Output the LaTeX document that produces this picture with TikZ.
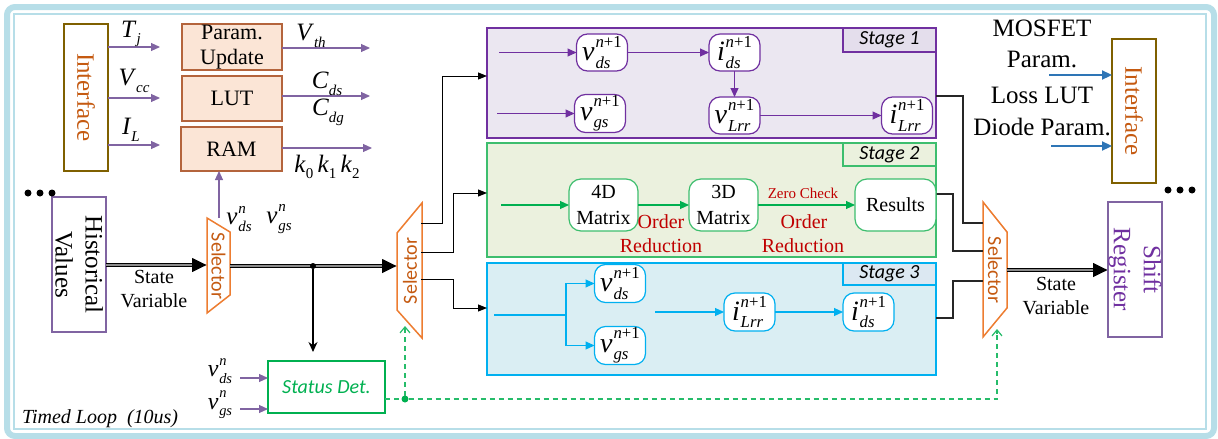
\documentclass[tikz,border=0pt]{standalone}
\usepackage{fontspec}
\setmainfont{Liberation Serif}
\newfontfamily\tms{Liberation Serif}
\newfontfamily\carl{Carlito}
\usetikzlibrary{arrows.meta,calc}
\definecolor{band}{HTML}{B7DEE8}
\definecolor{pur}{HTML}{7030A0}
\definecolor{pul}{HTML}{8064A2}
\definecolor{olv}{HTML}{7F6000}
\definecolor{brn}{HTML}{C55A11}
\definecolor{org}{HTML}{ED7D31}
\definecolor{peach}{HTML}{FBE5D6}
\definecolor{boxb}{HTML}{B4643C}
\definecolor{grn}{HTML}{00B050}
\definecolor{grl}{HTML}{3DBE6E}
\definecolor{cyn}{HTML}{00B0F0}
\definecolor{sonef}{HTML}{EBE7F1}
\definecolor{sonel}{HTML}{E4DEEC}
\definecolor{stwof}{HTML}{EBF1DE}
\definecolor{sthrf}{HTML}{DAEEF3}
\definecolor{sthrl}{HTML}{DCE8F2}
\definecolor{dred}{HTML}{C00000}
\definecolor{blu}{HTML}{2E75B6}
\newcommand\fsz[2]{\tms\fontsize{#1}{#2}\selectfont}
\newcommand\csz[2]{\carl\fontsize{#1}{#2}\selectfont}
\makeatletter
\newdimen\scrsz
\newdimen\scrw
\newcommand\scr[1]{\scrsz=0.6\dimexpr\f@size pt\relax\fontsize{\the\scrsz}{\the\scrsz}\selectfont #1}
\newcommand\supsub[2]{\setbox0=\hbox{\scr{#1}}\setbox2=\hbox{\scr{#2}}%
  \scrw=\wd0 \ifdim\wd2>\scrw \scrw=\wd2\fi
  \makebox[\scrw][l]{\rlap{\raisebox{0.47em}{\box0}}\raisebox{-0.27em}{\box2}}}
\makeatother
\newcommand\mvp[2]{\textit{#1}\kern0.03em\supsub{\textit{n}+1}{\textit{#2}}}
\newcommand\mvn[2]{\textit{#1}\kern0.03em\supsub{\textit{n}}{\textit{#2}}}
\newcommand\msb[2]{\textit{#1}\raisebox{-0.27em}{\hbox{\scr{\textit{#2}}}}}
\newcommand\msu[2]{\textit{#1}\raisebox{-0.27em}{\hbox{\scr{#2}}}}
\tikzset{
  every node/.style={inner sep=0pt, outer sep=0pt},
  parr/.style={draw=pul, line width=1.1pt, -{Triangle[length=9pt,width=8pt]}},
  blk/.style={draw=black, line width=1pt, -{Triangle[length=9pt,width=7pt]}},
  blkline/.style={draw=black!85, line width=1.1pt},
  ifbox/.style={draw=olv, line width=1.2pt, fill=white},
  pbox/.style={draw=boxb, line width=1.2pt, fill=peach, minimum width=100pt, font=\fsz{22}{25}, align=center},
  sel/.style={draw=org, line width=1.5pt, fill=white},
  seltxt/.style={text=brn, font=\csz{20}{22}},
  stlab/.style={font=\csz{20}{22}\itshape, minimum width=93pt, anchor=north east, line width=1.2pt},
  sonen/.style={draw=pur, fill=white, rounded corners=11pt, line width=1.2pt, minimum width=51pt, minimum height=37pt, font=\fsz{28}{28}},
  stwon/.style={draw=grl, fill=white, rounded corners=12pt, line width=1.2pt, minimum width=69pt, minimum height=52pt, font=\fsz{20}{26}, align=center},
  sthrn/.style={draw=cyn, fill=white, rounded corners=11pt, line width=1.2pt, minimum width=51pt, minimum height=38pt, font=\fsz{28}{28}},
  sonea/.style={draw=pur, line width=1.1pt, -{Triangle[length=9pt,width=8pt]}},
  stwoa/.style={draw=grn, line width=1.1pt, -{Triangle[length=9pt,width=8pt]}},
  sthra/.style={draw=cyn, line width=1.1pt, -{Triangle[length=9pt,width=8pt]}},
  rtxt/.style={text=dred, font=\fsz{20}{22}},
  mtxt/.style={font=\fsz{25}{26}},
  gdash/.style={draw=grn!85, line width=1.2pt, dash pattern=on 5pt off 4pt},
  dblk/.style={draw=black, line width=4pt, -{Triangle[length=15pt,width=13pt]}},
  dgry/.style={draw=black!45, line width=1.4pt},
  dotb/.style={fill=black, circle, minimum size=7pt}
}
\begin{document}
\begin{tikzpicture}[x=1pt,y=-1pt]
\useasboundingbox (0,0) rectangle (1218,439);
% frame
\draw[band, line width=6pt, rounded corners=8pt] (7,7) rectangle (1214,436);
\draw[band, line width=1.5pt] (14,14) rectangle (1206,429);

% ---- left interface
\node[ifbox, minimum width=44pt, minimum height=147pt] (ifl) at (86,97.5) {};
\node[rotate=-90, text=brn, font=\fsz{25}{28}] (iflt) at (ifl) {Interface};
\node[pbox, minimum height=46pt] (pu) at (232,47) {Param.\\Update};
\node[pbox, minimum height=45pt] (lut) at (232,98.5) {LUT};
\node[pbox, minimum height=44pt, minimum width=101pt] (ram) at (231.5,149) {RAM};
\draw[parr] (ifl.east |- 0,47) -- (160,47);
\draw[parr] (ifl.east |- 0,98) -- (160,98);
\draw[parr] (ifl.east |- 0,145) -- (160,145);
\node[mtxt] (tj) at (131,34) {\msb{T}{j}};
\node[mtxt] (vcc) at (134,81) {\msb{V}{cc}};
\node[mtxt] (il) at (131,130) {\msb{I}{L}};
\draw[parr] (pu.east |- 0,48) -- (370,48);
\draw[parr] (lut.east |- 0,96) -- (370,96);
\draw[parr] (ram.east |- 0,148) -- (372,148);
\node[mtxt] (vth) at (311,36) {\msb{V}{th}};
\node[mtxt] (cds) at (327,84) {\msb{C}{ds}};
\node[mtxt] (cdg) at (328,112) {\msb{C}{dg}};
\node[mtxt] (kk) at (327,167) {\msu{k}{0}\,\msu{k}{1}\,\msu{k}{2}};
\coordinate (ramin) at (219,218);
\draw[parr] (ramin) -- (ramin |- ram.south);
\node[mtxt] (vdsn) at (239,219) {\mvn{v}{ds}};
\node[mtxt] (vgsn) at (279,219) {\mvn{v}{gs}};

% ---- historical values
\node[draw=pul, line width=1.2pt, fill=white, minimum width=54pt, minimum height=135pt] (hv) at (79,264.5) {};
\node[rotate=-90, font=\fsz{25}{30}, align=center] (hvt) at (hv) {Historical\\Values};
\node[dotb] (d1) at (28,193) {};
\node[dotb] (d2) at (40,193) {};
\node[dotb] (d3) at (52,193) {};

% ---- selectors
\draw[sel] (207,218) -- (230,232) -- (230,295) -- (207,313) -- cycle;
\node[seltxt, rotate=-90] (sel1) at (218.5,266) {Selector};
\draw[sel] (397,233) -- (422,203) -- (422,338) -- (397,310) -- cycle;
\node[seltxt, rotate=90] (sel2) at (410,271) {Selector};
\draw[sel] (983,202) -- (1007,232) -- (1007,308) -- (983,337) -- cycle;
\node[seltxt, rotate=-90] (sel3) at (995,270) {Selector};

% state variable double arrows
\coordinate (hvo) at (hv.east |- 0,265);
\coordinate (s1i) at (207,265);
\draw[dblk] (hvo) -- (s1i);
\draw[dgry] (hvo) -- ($(s1i)+(-15,0)$);
\coordinate (s1o) at (230,266);
\coordinate (s2i) at (397,266);
\draw[dblk] (s1o) -- (s2i);
\draw[dgry] (s1o) -- ($(s2i)+(-15,0)$);
\coordinate (s3o) at (1007,270);
\coordinate (sri) at (1108,270);
\draw[dblk] (s3o) -- (sri);
\draw[dgry] (s3o) -- ($(sri)+(-15,0)$);
\node[font=\fsz{20}{24}, align=center] (sv1) at (154,289) {State\\Variable};
\node[font=\fsz{20}{24}, align=center] (sv2) at (1056,296) {State\\Variable};

% junction and status det
\node[fill=black, circle, minimum size=6pt] (jn) at (313,266) {};
\node[draw=grn, line width=1.2pt, minimum width=117pt, minimum height=52pt, text=grn, font=\csz{20}{22}\itshape] (sd) at (326.5,387) {Status Det.};
\draw[draw=black, line width=1.1pt, -{Stealth[length=10pt,width=9pt]}] (jn) -- (313,352);
\draw[parr] (240,378) -- (sd.west |- 0,378);
\draw[parr] (240,409) -- (sd.west |- 0,409);
\node[font=\fsz{24}{24}] (vdsn2) at (220,371) {\mvn{v}{ds}};
\node[font=\fsz{24}{24}] (vgsn2) at (220,405) {\mvn{v}{gs}};
\node[font=\fsz{20}{22}\itshape, anchor=base west] (tl) at (22,423) {Timed Loop\ \ (10us)};

% dashed green control
\node[fill=grn, circle, minimum size=7pt] (gd) at (405,399) {};
\draw[gdash] (sd.east |- 0,399) -- (gd) -- (997,399) -- (997,333);
\draw[gdash, -{Straight Barb[length=6pt,width=10pt]}] (gd) -- (405,326);
\draw[draw=grn!85, line width=1.2pt, -{Straight Barb[length=6pt,width=10pt]}] (997,334) -- (997,329);

% ---- stage boxes
\node[draw=pur, fill=sonef, line width=1.2pt, minimum width=449pt, minimum height=110pt] (st1) at (711.5,83) {};
\node[stlab, draw=pur, fill=sonel, minimum height=24pt] (st1l) at (st1.north east) {Stage 1};
\node[draw=grl, fill=stwof, line width=1.2pt, minimum width=449pt, minimum height=114pt] (st2) at (711.5,200) {};
\node[stlab, draw=grl, fill=stwof, minimum height=23pt] (st2l) at (st2.north east) {Stage 2};
\node[draw=cyn, fill=sthrf, line width=1.2pt, minimum width=449pt, minimum height=112pt] (st3) at (711.5,319) {};
\node[stlab, draw=cyn, fill=sthrl, minimum height=22pt] (st3l) at (st3.north east) {Stage 3};

% selector2 -> stages
\draw[blk] (421,223) -- (442,223) -- (442,76) -- (st1.west |- 0,76);
\draw[blk] (421,252) -- (453,252) -- (453,193) -- (st2.west |- 0,193);
\draw[blk] (421,279) -- (453,279) -- (453,308) -- (st3.west |- 0,308);

% stages -> selector3
\draw[blkline] (st1.east |- 0,96) -- (963,96) -- (963,223) -- (983,223);
\draw[blkline] (st2.east |- 0,194) -- (953,194) -- (953,251) -- (983,251);
\draw[blkline] (st3.east |- 0,318) -- (953,318) -- (953,281) -- (983,281);

% stage 1 content
\node[sonen] (a1) at (602,52.5) {\mvp{v}{ds}};
\node[sonen] (a2) at (734.5,52.5) {\mvp{i}{ds}};
\node[sonen, minimum height=38pt] (a3) at (600,113.5) {\mvp{v}{gs}};
\node[sonen] (a4) at (734.5,115.5) {\mvp{v}{Lrr}};
\node[sonen] (a5) at (907,115.5) {\mvp{i}{Lrr}};
\coordinate (a1in) at (499,52.5);
\coordinate (a3in) at (497,113.5);
\draw[sonea] (a1in) -- (a1);
\draw[sonea] (a1) -- (a2);
\draw[sonea] (a2) -- (a4);
\draw[sonea] (a3in) -- (a3);
\draw[sonea] (a4) -- (a5);

% stage 2 content
\node[stwon] (b1) at (603.5,205) {4D\\Matrix};
\node[stwon] (b2) at (723.5,205) {3D\\Matrix};
\node[stwon, minimum width=81pt] (b3) at (895.5,205) {Results};
\coordinate (b1in) at (501,205);
\draw[stwoa] (b1in) -- (b1);
\draw[stwoa] (b1) -- (b2);
\draw[stwoa] (b2) -- (b3);
\node[rtxt] (o1) at (661,222) {Order};
\node[rtxt] (r1) at (661,246) {Reduction};
\node[rtxt] (o2) at (804,222) {Order};
\node[rtxt] (r2) at (803,246) {Reduction};
\node[text=dred, font=\fsz{15}{17}] (zc) at (803,193) {Zero Check};

% stage 3 content
\node[sthrn] (c1) at (620,283.5) {\mvp{v}{ds}};
\node[sthrn] (c2) at (620,345.5) {\mvp{v}{gs}};
\node[sthrn] (c3) at (749.5,312) {\mvp{i}{Lrr}};
\node[sthrn] (c4) at (868.5,312) {\mvp{i}{ds}};
\coordinate (c0) at (494,315);
\coordinate (cb) at (566,315);
\draw[draw=cyn, line width=1.1pt] (c0) -- (cb);
\draw[sthra] (cb) |- (c1);
\draw[sthra] (cb) |- (c2);
\coordinate (c3in) at (655,312);
\draw[sthra] (c3in) -- (c3);
\draw[sthra] (c3) -- (c4);

% ---- right side
\node[ifbox, minimum width=44pt, minimum height=144pt] (ifr) at (1134,111) {};
\node[rotate=-90, text=brn, font=\fsz{25}{28}] (ifrt) at (ifr) {Interface};
\draw[draw=blu, line width=2.2pt, -{Triangle[length=10pt,width=9pt]}] (1049,75) -- (ifr.west |- 0,75);
\draw[draw=blu, line width=2.2pt, -{Triangle[length=10pt,width=9pt]}] (1051,146) -- (ifr.west |- 0,146);
\node[font=\fsz{25}{28}] (t1) at (1042,28) {MOSFET};
\node[font=\fsz{25}{28}] (t2) at (1042,59) {Param.};
\node[font=\fsz{25}{28}] (t3) at (1042,95) {Loss LUT};
\node[font=\fsz{25}{28}] (t4) at (1042,127) {Diode Param.};
\node[draw=pul, line width=1.2pt, fill=white, minimum width=54pt, minimum height=135pt] (sr) at (1135,269.5) {};
\node[rotate=-90, text=pur, font=\fsz{25}{30}, align=center] (srt) at (sr) {Shift\\Register};
\node[dotb] (e1) at (1168,190) {};
\node[dotb] (e2) at (1180,190) {};
\node[dotb] (e3) at (1192,190) {};
\end{tikzpicture}
\end{document}
